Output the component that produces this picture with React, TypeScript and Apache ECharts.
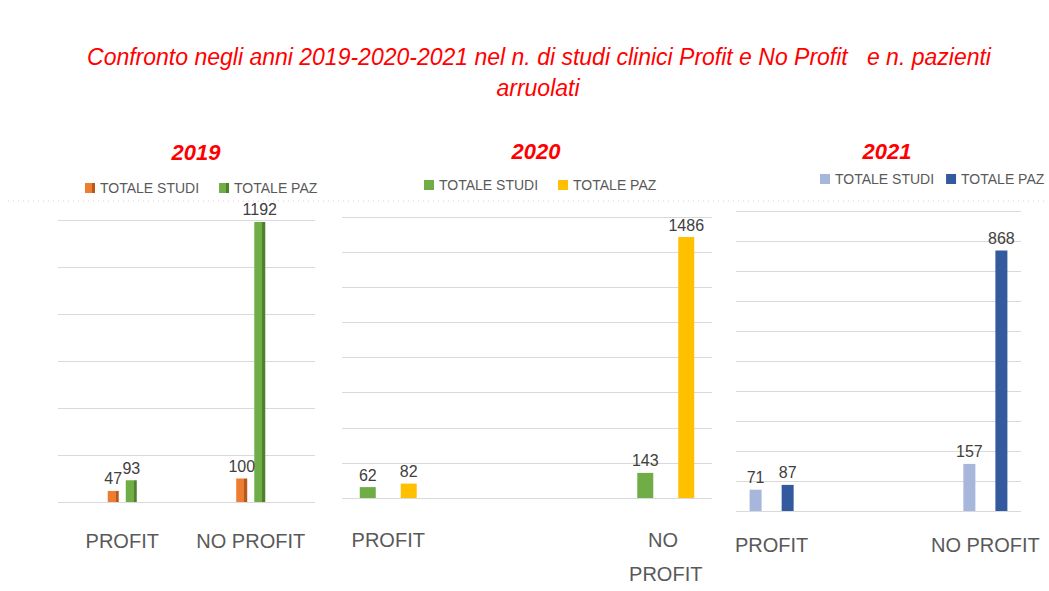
import React, { useEffect, useRef } from "react";
import * as echarts from "echarts";

const mainTitle1 = "Confronto negli anni 2019-2020-2021 nel n. di studi clinici Profit e No Profit   e n. pazienti";
const mainTitle2 = "arruolati";
const seriesNames = ["TOTALE STUDI", "TOTALE PAZ"];

const categories2019 = ["", "PROFIT", "", "", "NO PROFIT", ""];
const studi2019 = [null, 47, 0, null, 100, null];
const paz2019 = [null, 93, 0, null, 1192, null];

const categories2020 = ["PROFIT", "", "", "NO PROFIT"];
const studi2020 = [62, null, null, 143];
const paz2020 = [82, null, null, 1486];

const categories2021 = ["PROFIT", "", "", "NO PROFIT"];
const studi2021 = [71, null, null, 157];
const paz2021 = [87, null, null, 868];

const FONT = '"Liberation Sans", Arial, sans-serif';

function grad(base: string, side: string) {
  return new echarts.graphic.LinearGradient(0, 0, 1, 0, [
    { offset: 0, color: base },
    { offset: 0.72, color: base },
    { offset: 0.73, color: side },
    { offset: 1, color: side },
  ]);
}

export default function App() {
  const ref = useRef<HTMLDivElement>(null);
  useEffect(() => {
    if (!ref.current) return;
    const chart = echarts.init(ref.current, undefined, { renderer: "svg" });
    const label = {
      show: true,
      position: "top",
      distance: 4,
      color: "#404040",
      fontSize: 16,
      fontFamily: FONT,
      formatter: (p: any) => (p.value ? String(p.value) : ""),
    };
    const yAx = (idx: number, max: number, interval: number) => ({
      type: "value",
      gridIndex: idx,
      min: 0,
      max,
      interval,
      axisLabel: { show: false },
      axisLine: { show: false },
      axisTick: { show: false },
      splitLine: { lineStyle: { color: "#d9d9d9", width: 1 } },
    });
    const xAx = (idx: number, data: string[], margin: number, extra: any = {}) => ({
      type: "category",
      gridIndex: idx,
      data,
      axisLine: { show: false },
      axisTick: { show: false },
      axisLabel: {
        color: "#595959",
        fontSize: 20,
        fontFamily: FONT,
        margin,
        interval: 0,
        ...extra,
      },
    });
    const legend = (year: string, left: number, top: number, gap: number) => ({
      left,
      top,
      width: 400,
      orient: "horizontal",
      padding: 0,
      itemWidth: 10,
      itemHeight: 10,
      itemGap: gap,
      icon: "rect",
      data: seriesNames.map((n) => year + "|" + n),
      formatter: (name: string) => name.split("|")[1],
      textStyle: { color: "#595959", fontSize: 14, fontFamily: FONT },
    });
    const yearText = (text: string, x: number, y: number) => ({
      type: "text",
      style: {
        text,
        x,
        y,
        textAlign: "center",
        textVerticalAlign: "middle",
        fill: "#ff0000",
        fontSize: 22,
        fontWeight: "bold",
        fontStyle: "italic",
        fontFamily: FONT,
      },
    });
    const titleText = (text: string, x: number, y: number) => ({
      type: "text",
      style: {
        text,
        x,
        y,
        textAlign: "center",
        textVerticalAlign: "middle",
        fill: "#ff0000",
        fontSize: 23,
        fontStyle: "italic",
        fontFamily: FONT,
      },
    });
    chart.setOption({
      animation: false,
      backgroundColor: "#ffffff",
      graphic: [
        titleText(mainTitle1, 539, 57),
        titleText(mainTitle2, 538, 88),
        yearText("2019", 196, 152),
        yearText("2020", 536, 151),
        yearText("2021", 887, 151),
        {
          type: "line",
          shape: { x1: 8, y1: 201, x2: 1045, y2: 201 },
          style: { stroke: "#f2c4c0", lineWidth: 1, lineDash: [1, 4] },
        },
      ],
      legend: [
        legend("2019", 85, 181, 20),
        legend("2020", 424, 178, 20),
        legend("2021", 820, 172, 12),
      ],
      grid: [
        { left: 58, top: 220, width: 257, height: 282 },
        { left: 342, top: 217, width: 370, height: 293 },
        { left: 736, top: 211, width: 285, height: 300 },
      ],
      xAxis: [
        xAx(0, categories2019, 29),
        xAx(1, categories2020, 25, { width: 80, overflow: "break", lineHeight: 34 }),
        xAx(2, categories2021, 24),
      ],
      yAxis: [yAx(0, 1200, 200), yAx(1, 1600, 200), yAx(2, 1000, 100)],
      series: [
        {
          name: "2019|TOTALE STUDI",
          type: "bar",
          xAxisIndex: 0,
          yAxisIndex: 0,
          data: studi2019,
          barWidth: 11,
          barGap: "64%",
          color: "#ED7D31",
          itemStyle: { color: grad("#ED7D31", "#B65A1C") },
          label,
        },
        {
          name: "2019|TOTALE PAZ",
          type: "bar",
          xAxisIndex: 0,
          yAxisIndex: 0,
          data: paz2019,
          barWidth: 11,
          barGap: "64%",
          color: "#70AD47",
          itemStyle: { color: grad("#70AD47", "#4E8030") },
          label,
        },
        {
          name: "2020|TOTALE STUDI",
          type: "bar",
          xAxisIndex: 1,
          yAxisIndex: 1,
          data: studi2020,
          barWidth: 16,
          barGap: "156%",
          itemStyle: { color: "#70AD47" },
          label,
        },
        {
          name: "2020|TOTALE PAZ",
          type: "bar",
          xAxisIndex: 1,
          yAxisIndex: 1,
          data: paz2020,
          barWidth: 16,
          barGap: "156%",
          itemStyle: { color: "#FFC000" },
          label,
        },
        {
          name: "2021|TOTALE STUDI",
          type: "bar",
          xAxisIndex: 2,
          yAxisIndex: 2,
          data: studi2021,
          barWidth: 12,
          barGap: "167%",
          itemStyle: { color: "#A7B6DB" },
          label,
        },
        {
          name: "2021|TOTALE PAZ",
          type: "bar",
          xAxisIndex: 2,
          yAxisIndex: 2,
          data: paz2021,
          barWidth: 12,
          barGap: "167%",
          itemStyle: { color: "#335A9E" },
          label,
        },
      ],
    });
    return () => chart.dispose();
  }, []);
  return (
    <div
      ref={ref}
      style={{ position: "absolute", left: 0, top: 0, width: 1049, height: 591 }}
    />
  );
}
